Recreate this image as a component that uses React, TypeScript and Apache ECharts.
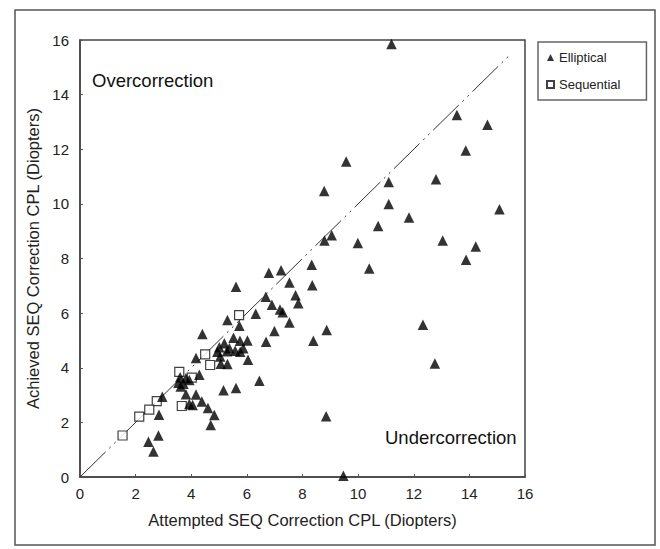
import React, { useEffect, useRef } from "react";
import * as echarts from "echarts";

const xTicks = { min: 0, max: 16, interval: 2 };

const ellipticalPoints: [number, number][] = [
  [11.2, 15.85], [13.55, 13.25], [14.65, 12.9], [13.87, 11.95], [9.57, 11.55],
  [12.8, 10.9], [11.1, 10.8], [8.78, 10.47], [11.1, 10.0], [15.08, 9.8],
  [11.83, 9.5], [10.72, 9.19], [9.05, 8.85], [8.79, 8.66], [9.99, 8.57],
  [13.04, 8.66], [14.23, 8.44], [13.88, 7.95], [10.4, 7.63], [12.33, 5.57],
  [12.76, 4.16], [9.47, 0.05], [8.85, 2.22],
  [6.79, 7.48], [7.23, 7.57], [8.33, 7.77], [5.61, 6.97], [7.53, 7.12],
  [8.35, 7.02], [7.75, 6.65], [6.68, 6.6], [7.85, 6.36], [6.9, 6.31],
  [7.19, 6.13], [7.29, 6.03], [6.32, 5.98], [7.53, 5.66], [8.87, 5.38],
  [5.73, 5.54], [6.99, 5.35], [8.39, 4.99], [6.69, 4.95], [6.04, 4.29],
  [6.45, 3.52], [5.61, 3.26], [5.16, 3.18], [5.3, 5.75], [4.4, 5.24],
  [5.52, 5.1], [5.19, 4.9], [5.75, 4.99], [6.02, 5.0], [5.01, 4.75],
  [5.37, 4.71], [5.58, 4.62], [5.87, 4.71], [4.94, 4.59], [5.28, 4.6],
  [5.76, 4.59], [5.04, 4.41], [5.06, 4.15], [5.3, 4.14], [4.17, 4.36],
  [4.29, 3.74],
  [3.6, 3.65], [3.81, 3.62], [3.54, 3.45], [3.72, 3.41], [3.93, 3.55],
  [3.62, 3.31], [3.81, 3.03], [4.17, 3.02], [2.96, 2.94], [4.38, 2.76],
  [3.93, 2.67], [4.05, 2.64], [4.6, 2.53], [4.83, 2.27], [2.84, 2.28],
  [4.7, 1.9], [2.82, 1.52], [2.46, 1.29], [2.64, 0.93],
];

const sequentialPoints: [number, number][] = [
  [5.72, 5.93], [4.5, 4.49], [4.68, 4.1], [4.02, 3.64], [3.57, 3.85],
  [2.76, 2.78], [3.66, 2.6], [2.49, 2.47], [2.13, 2.21], [1.53, 1.52],
];

const identityLine: [number, number][] = [[0, 0], [15.4, 15.4]];

const seriesNames = ["Elliptical", "Sequential"];
const xTitle = "Attempted SEQ Correction CPL (Diopters)";
const yTitle = "Achieved SEQ Correction CPL (Diopters)";
const overLabel = "Overcorrection";
const underLabel = "Undercorrection";

const FONT = "'Liberation Sans', Arial, Helvetica, sans-serif";

export default function App() {
  const ref = useRef<HTMLDivElement>(null);

  useEffect(() => {
    if (!ref.current) return;
    const chart = echarts.init(ref.current, undefined, { renderer: "svg" });
    const axisCommon = {
      type: "value" as const,
      min: xTicks.min,
      max: xTicks.max,
      interval: xTicks.interval,
      splitLine: { show: false },
      axisLine: { show: true, lineStyle: { color: "#444", width: 1.5 } },
      axisTick: { show: true, inside: true, length: 3, lineStyle: { color: "#555" } },
      nameLocation: "middle" as const,
      nameTextStyle: { fontSize: 16.5, color: "#222", fontFamily: FONT },
    };
    chart.setOption({
      animation: false,
      backgroundColor: "#fff",
      textStyle: { fontFamily: FONT },
      grid: {
        left: 80,
        top: 40,
        width: 445,
        height: 437,
        show: true,
        borderColor: "#444",
        borderWidth: 1.5,
        containLabel: false,
      },
      xAxis: {
        ...axisCommon,
        name: xTitle,
        nameGap: 34,
        axisLabel: { fontSize: 15, color: "#222", margin: 9, fontFamily: FONT },
      },
      yAxis: {
        ...axisCommon,
        name: yTitle,
        nameGap: 39,
        axisLabel: { fontSize: 15, color: "#222", margin: 11, fontFamily: FONT },
      },
      legend: {
        data: [
          { name: seriesNames[0], icon: "triangle" },
          { name: seriesNames[1], icon: "rect" },
        ],
        orient: "vertical",
        left: 538,
        top: 42,
        borderColor: "#666",
        borderWidth: 1.5,
        padding: [9, 26, 9, 8],
        itemGap: 14,
        itemWidth: 7,
        itemHeight: 7,
        textStyle: { fontSize: 13, color: "#222", fontFamily: FONT },
      },
      graphic: [
        {
          type: "rect",
          shape: { x: 15, y: 10, width: 640, height: 535 },
          style: { fill: "none", stroke: "#555", lineWidth: 1.5 },
          silent: true,
        },
        {
          type: "text",
          left: 92,
          top: 71,
          style: { text: overLabel, fontSize: 18.5, fill: "#111", fontFamily: FONT },
        },
        {
          type: "text",
          left: 385,
          top: 428,
          style: { text: underLabel, fontSize: 18.5, fill: "#111", fontFamily: FONT },
        },
      ],
      series: [
        {
          name: "identity",
          type: "line",
          data: identityLine,
          symbol: "none",
          silent: true,
          z: 1,
          lineStyle: { color: "#333", width: 1, type: [36, 5, 2, 5, 2, 5] },
        },
        {
          name: seriesNames[1],
          type: "scatter",
          data: sequentialPoints,
          symbol: "rect",
          symbolSize: 9,
          z: 2,
          itemStyle: { color: "#fff", borderColor: "#111", borderWidth: 1.2 },
        },
        {
          name: seriesNames[0],
          type: "scatter",
          data: ellipticalPoints,
          symbol: "triangle",
          symbolSize: 10.5,
          z: 3,
          itemStyle: { color: "#000" },
        },
      ],
    });
    return () => chart.dispose();
  }, []);

  return (
    <div
      ref={ref}
      style={{ position: "fixed", left: 0, top: 0, width: 660, height: 549, background: "#fff" }}
    />
  );
}
